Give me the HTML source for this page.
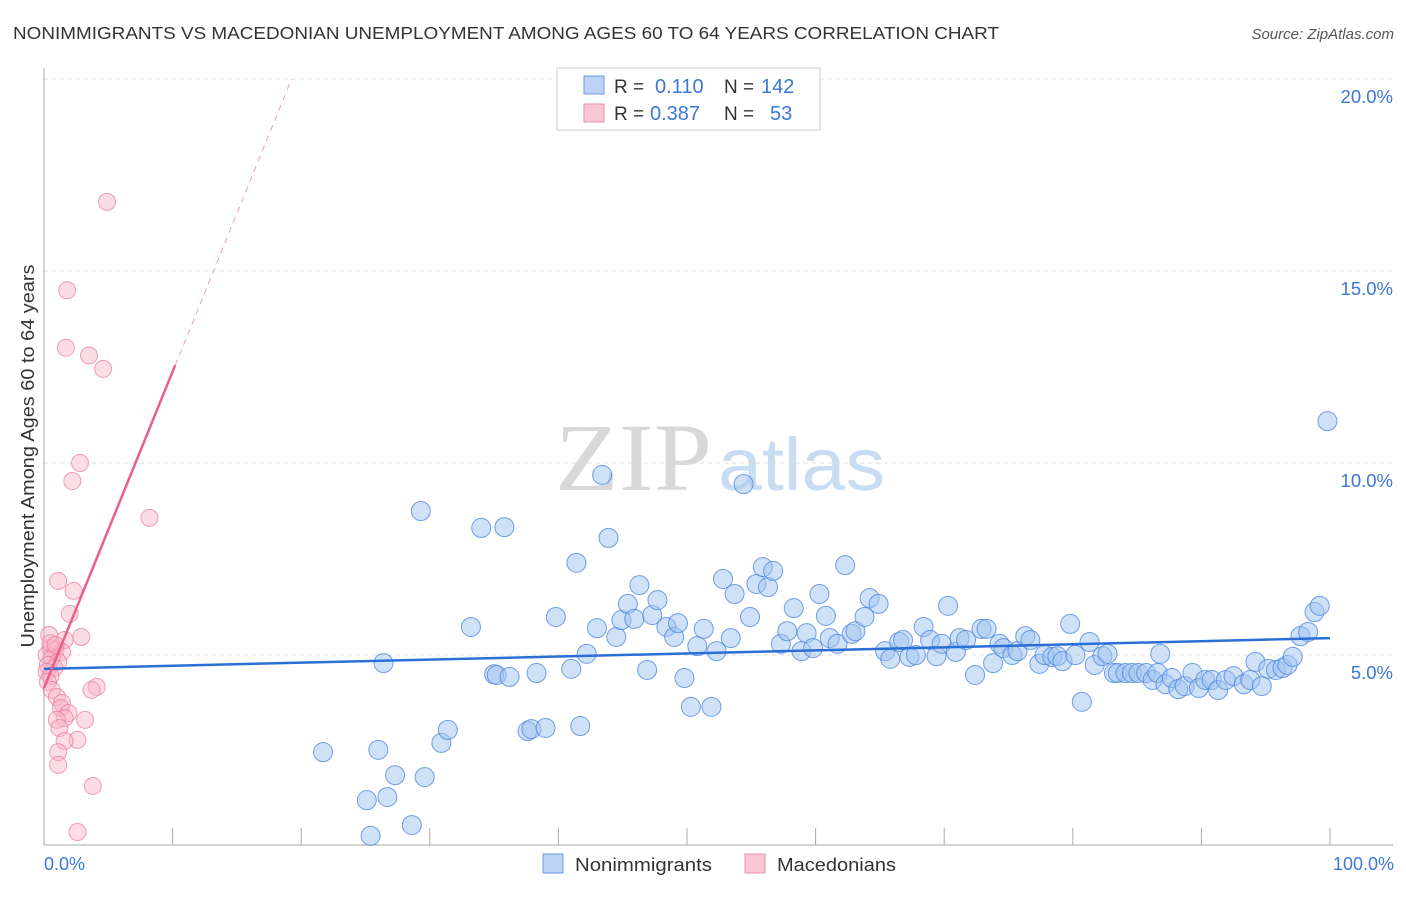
<!DOCTYPE html>
<html><head><meta charset="utf-8"><style>
body{margin:0;background:#fff;font-family:"Liberation Sans",sans-serif}
svg text{font-family:"Liberation Sans",sans-serif}
</style></head><body>
<svg id="chart" width="1406" height="892" xmlns="http://www.w3.org/2000/svg">
<text x="13" y="39" font-size="17.5" fill="#333" textLength="986" lengthAdjust="spacingAndGlyphs">NONIMMIGRANTS VS MACEDONIAN UNEMPLOYMENT AMONG AGES 60 TO 64 YEARS CORRELATION CHART</text>
<text x="1394" y="39" font-size="15" fill="#555" text-anchor="end" font-style="italic">Source: ZipAtlas.com</text>
<g>
<text x="555" y="490" font-size="96" fill="#d8d8d8" textLength="157" lengthAdjust="spacingAndGlyphs" style="font-family:'Liberation Serif',serif">ZIP</text>
<text x="718" y="490" font-size="74" fill="#c8dcf2" textLength="167" lengthAdjust="spacingAndGlyphs">atlas</text>
</g>
<g id="grid"></g>
<g id="marks"></g>
<text transform="translate(34,456) rotate(-90)" font-size="18" fill="#333" text-anchor="middle" textLength="383" lengthAdjust="spacingAndGlyphs">Unemployment Among Ages 60 to 64 years</text>
<text x="44" y="870" font-size="18" fill="#3b78d8">0.0%</text>
<text x="1394" y="870" font-size="18" fill="#3b78d8" text-anchor="end">100.0%</text>
<g>
<rect x="557" y="68" width="263" height="62" fill="#fff" stroke="#ccc"/>
<rect x="584" y="76" width="20" height="18" fill="#bcd3f5" stroke="#6f9be0"/>
<rect x="584" y="104" width="20" height="18" fill="#f9c6d5" stroke="#ec8eab"/>
<text x="614" y="93" font-size="19" fill="#333">R =</text>
<text x="655" y="93" font-size="20" fill="#3b78d8">0.110</text>
<text x="724" y="93" font-size="19" fill="#333">N =</text>
<text x="761" y="93" font-size="20" fill="#3b78d8">142</text>
<text x="614" y="120" font-size="19" fill="#333">R =</text>
<text x="650" y="120" font-size="20" fill="#3b78d8">0.387</text>
<text x="724" y="120" font-size="19" fill="#333">N =</text>
<text x="770" y="120" font-size="20" fill="#3b78d8">53</text>
</g>
<g>
<rect x="543" y="854" width="20" height="19" fill="#bcd3f5" stroke="#6f9be0"/>
<text x="575" y="871" font-size="18" fill="#333" textLength="137" lengthAdjust="spacingAndGlyphs">Nonimmigrants</text>
<rect x="745" y="854" width="20" height="19" fill="#f9c6d5" stroke="#ec8eab"/>
<text x="777" y="871" font-size="18" fill="#333" textLength="119" lengthAdjust="spacingAndGlyphs">Macedonians</text>
</g>
</svg>
<script>
const blueX=[21.7,26.0,26.4,25.1,26.7,27.3,28.6,25.4,29.6,29.3,30.9,31.4,33.2,34.0,35.0,35.2,35.8,36.2,37.6,37.9,38.3,39.0,39.8,41.0,41.4,41.7,42.2,43.0,43.4,43.9,44.5,44.9,45.4,45.9,46.3,46.9,47.3,47.7,48.4,49.0,49.3,49.8,50.3,50.8,51.3,51.9,52.3,52.8,53.4,53.7,54.4,54.9,55.4,55.9,56.3,56.7,57.3,57.8,58.3,58.9,59.3,59.8,60.3,60.8,61.1,61.7,62.3,62.8,63.1,63.8,64.2,64.9,65.4,65.8,66.5,66.8,67.3,67.8,68.4,68.9,69.4,69.8,70.3,70.9,71.2,71.7,72.4,72.9,73.3,73.8,74.3,74.6,75.3,75.7,76.3,76.7,77.4,77.8,78.4,78.8,79.2,79.8,80.2,80.7,81.3,81.7,82.3,82.7,83.2,83.5,84.1,84.6,85.1,85.7,86.2,86.6,86.8,87.2,87.7,88.2,88.7,89.3,89.8,90.3,90.8,91.3,91.9,92.5,93.3,93.8,94.2,94.7,95.2,95.8,96.3,96.7,97.1,97.7,98.3,98.8,99.2,99.8];
const blueY=[2.47,2.53,4.79,1.22,1.30,1.87,0.57,0.29,1.82,8.75,2.71,3.05,5.73,8.31,4.50,4.48,8.33,4.43,3.02,3.07,4.53,3.10,5.99,4.64,7.40,3.15,5.03,5.70,9.69,8.05,5.47,5.91,6.33,5.94,6.82,4.61,6.04,6.43,5.73,5.47,5.83,4.40,3.65,5.23,5.68,3.65,5.10,6.98,5.44,6.59,9.45,5.99,6.85,7.29,6.77,7.19,5.29,5.62,6.22,5.10,5.57,5.18,6.59,6.02,5.44,5.29,7.34,5.55,5.62,5.99,6.48,6.33,5.10,4.90,5.34,5.39,4.95,5.00,5.73,5.39,4.97,5.29,6.28,5.08,5.44,5.39,4.48,5.68,5.68,4.79,5.29,5.18,5.00,5.10,5.49,5.39,4.77,5.00,4.95,4.97,4.84,5.81,5.00,3.78,5.34,4.74,4.97,5.03,4.53,4.53,4.53,4.53,4.53,4.53,4.35,4.53,5.03,4.24,4.40,4.11,4.19,4.53,4.14,4.35,4.35,4.09,4.35,4.45,4.24,4.35,4.82,4.19,4.64,4.61,4.66,4.74,4.95,5.49,5.60,6.12,6.28,11.09];
const pinkX=[4.9,1.8,1.7,3.5,4.6,2.8,2.2,8.2,1.1,2.3,2.0,0.4,2.9,1.6,0.5,0.9,1.4,0.2,0.6,1.1,0.3,0.8,0.2,0.5,0.3,0.6,1.0,1.4,1.3,1.9,1.6,1.0,3.2,4.1,3.7,1.2,2.6,1.6,1.1,1.1,3.8,2.6,0.5,0.9];
const pinkY=[16.8,14.5,13.0,12.8,12.45,10.0,9.53,8.57,6.93,6.67,6.07,5.52,5.47,5.39,5.18,5.13,5.08,5.00,4.92,4.82,4.74,4.66,4.56,4.45,4.30,4.09,3.91,3.75,3.62,3.49,3.36,3.31,3.31,4.17,4.09,3.10,2.79,2.76,2.47,2.14,1.59,0.39,5.31,5.26];
const blueTrend=[4.64,5.44];
const pinkTrend=[4.14,0.824];
const yTicks=[5,10,15,20];
const xTicks=[0,10,20,30,40,50,60,70,80,90,100];
const NS='http://www.w3.org/2000/svg';
const X=v=>44+v*12.86, Y=v=>847-v*38.4;
function mk(t,a,p){const e=document.createElementNS(NS,t);for(const k in a)e.setAttribute(k,a[k]);(p||document.getElementById('marks')).appendChild(e);return e;}
const g=document.getElementById('grid');
yTicks.forEach(t=>{
 const l=mk('line',{x1:44,x2:1393,y1:Y(t),y2:Y(t),stroke:'#ddd','stroke-dasharray':'4,4'},g);
 
 
 const tx=mk('text',{x:1393,y:Y(t)+24,'font-size':18.5,fill:'#3b78d8','text-anchor':'end'},g);
 tx.textContent=t.toFixed(1)+'%';
 
 
});
const ax=mk('line',{x1:44,x2:44,y1:68,y2:845,stroke:'#aaa'},g);


const bx=mk('line',{x1:44,x2:1393,y1:845,y2:845,stroke:'#aaa'},g);


xTicks.forEach(t=>{
 const l=mk('line',{x1:X(t),x2:X(t),y1:828,y2:845,stroke:'#aaa'},g);
 
 
});
blueX.forEach((x,i)=>{
 const c=mk('circle',{cx:X(x),cy:Y(blueY[i]),r:9.5,fill:'rgba(160,195,240,0.5)',stroke:'rgba(70,130,220,0.75)','stroke-width':1});
 
 
});
pinkX.forEach((x,i)=>{
 const c=mk('circle',{cx:X(x),cy:Y(pinkY[i]),r:8.5,fill:'rgba(248,180,200,0.45)',stroke:'rgba(232,120,155,0.7)','stroke-width':1});
 
 
});
const bt=mk('line',{x1:X(0),y1:Y(blueTrend[0]),x2:X(100),y2:Y(blueTrend[1]),stroke:'#2a6fd6','stroke-width':2.5});


const pEnd=10.2, pDash=(20-pinkTrend[0])/pinkTrend[1];
const pt=mk('line',{x1:X(0),y1:Y(pinkTrend[0]),x2:X(pEnd),y2:Y(pinkTrend[0]+pinkTrend[1]*pEnd),stroke:'#e8608a','stroke-width':2.5});


const pd=mk('line',{x1:X(pEnd),y1:Y(pinkTrend[0]+pinkTrend[1]*pEnd),x2:X(pDash),y2:Y(20),stroke:'#eaa0b8','stroke-width':1,'stroke-dasharray':'6,5'});


</script>
</body></html>
